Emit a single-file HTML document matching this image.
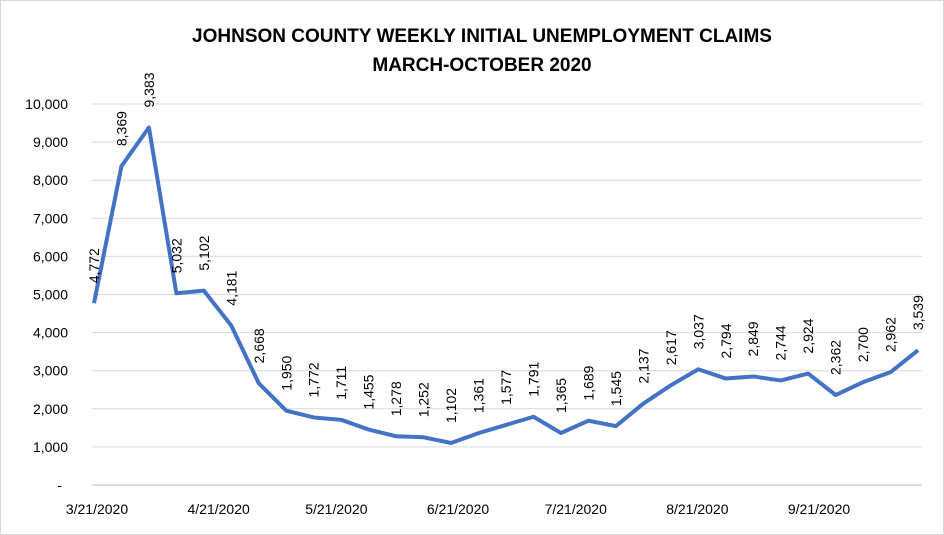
<!DOCTYPE html>
<html><head><meta charset="utf-8"><style>
html,body{margin:0;padding:0;background:#fff;}
svg{display:block;font-family:"Liberation Sans",Arial,sans-serif;}
</style></head><body>
<svg width="944" height="535" viewBox="0 0 944 535">
<rect x="0.5" y="0.5" width="943" height="534" fill="#fff" stroke="#d9d9d9"/>
<text x="482" y="42" text-anchor="middle" font-size="19" font-weight="bold" fill="#000">JOHNSON COUNTY WEEKLY INITIAL UNEMPLOYMENT CLAIMS</text>
<text x="482" y="71" text-anchor="middle" font-size="19" font-weight="bold" fill="#000">MARCH-OCTOBER 2020</text>
<g id="grid"></g><g id="yticks"></g><g id="xticks"></g><g id="series"></g><g id="labels"></g>
</svg>
<script>
const values=[4772,8369,9383,5032,5102,4181,2668,1950,1772,1711,1455,1278,1252,1102,1361,1577,1791,1365,1689,1545,2137,2617,3037,2794,2849,2744,2924,2362,2700,2962,3539];
const yTicks=[0,1000,2000,3000,4000,5000,6000,7000,8000,9000,10000];
const xTickLabels=["3/21/2020","4/21/2020","5/21/2020","6/21/2020","7/21/2020","8/21/2020","9/21/2020"];
const xTickDays=[0,31,61,92,122,153,184];
const NS="http://www.w3.org/2000/svg";
const y0=485,y1=104,yMax=10000,x0=94,pxDay=3.924;
const ys=v=>y0-(y0-y1)*v/yMax;
const xd=d=>x0+d*pxDay;
const fmt=v=>v===0?"-":v.toLocaleString("en-US");
function mk(t,a,p){const e=document.createElementNS(NS,t);for(const k in a)e.setAttribute(k,a[k]);p.appendChild(e);return e;}
const grid=document.getElementById("grid"),yt=document.getElementById("yticks"),xt=document.getElementById("xticks"),ser=document.getElementById("series"),lab=document.getElementById("labels");
yTicks.forEach(v=>{
  const l=mk("line",{x1:92,x2:922,y1:ys(v),y2:ys(v),stroke:v===0?"#bfbfbf":"#d9d9d9","stroke-width":1},grid);
  
  
  const t=mk("text",{x:v===0?62:68,y:ys(v)+5,"text-anchor":"end","font-size":14,fill:"#000"},yt);
  t.textContent=fmt(v);
  
  
});
xTickLabels.forEach((s,i)=>{
  const t=mk("text",{x:xd(xTickDays[i])+3,y:514,"text-anchor":"middle","font-size":14,fill:"#000"},xt);
  t.textContent=s;
  
  
});
const pts=values.map((v,i)=>[xd(i*7),ys(v)]);
const pl=mk("polyline",{points:pts.map(p=>p.join(",")).join(" "),fill:"none",stroke:"#4472C4","stroke-width":4,"stroke-linejoin":"round"},ser);


values.forEach((v,i)=>{
  const [x,y]=pts[i];
  const t=mk("text",{x:0,y:0,"font-size":14,fill:"#000",transform:`translate(${x+5},${y-20}) rotate(-90)`},lab);
  t.textContent=fmt(v);
  
  
});
</script>
</body></html>
